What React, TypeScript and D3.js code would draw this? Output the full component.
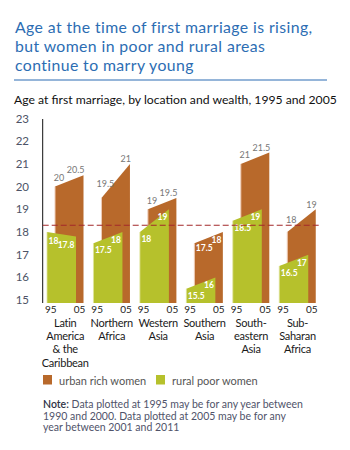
import React from "react";
import * as d3 from "d3";

const categories = [
  "Latin America & the Caribbean",
  "Northern Africa",
  "Western Asia",
  "Southern Asia",
  "South-eastern Asia",
  "Sub-Saharan Africa",
];
const categoryLines = [
  ["Latin", "America", "& the", "Caribbean"],
  ["Northern", "Africa"],
  ["Western", "Asia"],
  ["Southern", "Asia"],
  ["South-", "eastern", "Asia"],
  ["Sub-", "Saharan", "Africa"],
];
const urban1995 = [20, 19.5, 19, 17.5, 21, 18];
const urban2005 = [20.5, 21, 19.5, 18, 21.5, 19];
const rural1995 = [18, 17.5, 18, 15.5, 18.5, 16.5];
const rural2005 = [17.8, 18, 19, 16, 19, 17];
const yTicks = [15, 16, 17, 18, 19, 20, 21, 22, 23];
const yearLabels = ["95", "05"];
const referenceAge = 18.3;
const titleLines = [
  "Age at the time of first marriage is rising,",
  "but women in poor and rural areas",
  "continue to marry young",
];
const subtitle = "Age at first marriage, by location and wealth, 1995 and 2005";
const legendItems = ["urban rich women", "rural poor women"];
const noteLines = [
  "Data plotted at 1995 may be for any year between",
  "1990 and 2000. Data plotted at 2005 may be for any",
  "year between 2001 and 2011",
];

const BROWN = "#b8692b";
const GREEN = "#b6c12c";
const BLUE = "#2c6db3";
const FONT = "Lato, 'Open Sans', sans-serif";

export default function App() {
  const W = 350;
  const H = 450;
  const axisX = 42.7;
  const base = 303;
  const y = d3.scaleLinear().domain([15, 23]).range([300.1, 118.5]);
  const x = d3
    .scaleBand<string>()
    .domain(categories)
    .range([47, 47 + 46.45 * categories.length])
    .paddingInner(0)
    .paddingOuter(0);
  const barW = 29;
  const offset = 8;
  const fmt = (v: number) => String(v);
  const topAt = (x0: number, x1: number, v0: number, v1: number, xx: number) =>
    y(v0) + ((xx - x0) / (x1 - x0)) * (y(v1) - y(v0));

  return (
    <svg
      width={W}
      height={H}
      style={{ position: "absolute", left: 0, top: 0, background: "#fff" }}
      fontFamily={FONT}
    >
      {/* Title */}
      {titleLines.map((t, i) => (
        <text key={i} x={15} y={32.5 + i * 19} fill={BLUE} fontSize={15.8} letterSpacing={0.4}>
          {t}
        </text>
      ))}
      <line x1={14} x2={327} y1={80} y2={80} stroke={BLUE} strokeWidth={1.2} />
      <text x={14} y={103.5} fontSize={12.2} fill="#111">
        {subtitle}
      </text>

      {/* Y axis */}
      <line x1={axisX} x2={axisX} y1={119} y2={base} stroke="#111" strokeWidth={1} />
      {yTicks.map((t) => (
        <text
          key={t}
          x={29}
          y={y(t)}
          dy="0.35em"
          textAnchor="end"
          fontSize={11.5}
          fill="#4d5366"
        >
          {t}
        </text>
      ))}

      {/* Bars */}
      {categories.map((c, i) => {
        const gx0 = x(c)!;
        const gx1 = gx0 + barW;
        const bx0 = gx0 + offset;
        const bx1 = bx0 + barW - 0.5;
        const brownPts = [
          [bx0, base],
          [bx0, y(urban1995[i])],
          [bx1, y(urban2005[i])],
          [bx1, base],
        ];
        const greenPts = [
          [gx0, base],
          [gx0, y(rural1995[i])],
          [gx1, y(rural2005[i])],
          [gx1, base],
        ];
        return (
          <g key={c}>
            <polygon points={brownPts.map((p) => p.join(",")).join(" ")} fill={BROWN} />
            <line x1={bx0} x2={bx0} y1={y(urban1995[i])} y2={base} stroke="#efcdb8" strokeWidth={1} />
            <polygon points={greenPts.map((p) => p.join(",")).join(" ")} fill={GREEN} />
            <line x1={gx0} x2={gx0} y1={y(rural1995[i])} y2={base} stroke="#dfe59c" strokeWidth={0.8} />
          </g>
        );
      })}

      {/* Labels drawn above all bars */}
      {categories.map((c, i) => {
        const gx0 = x(c)!;
        const gx1 = gx0 + barW;
        const bx0 = gx0 + offset;
        const bx1 = bx0 + barW - 0.5;
        const inside = urban2005[i] < referenceAge;
        const uTop = (xx: number) => topAt(bx0, bx1, urban1995[i], urban2005[i], xx);
        const gTop = (xx: number) => topAt(gx0, gx1, rural1995[i], rural2005[i], xx);
        return (
          <g key={c}>
            {inside ? (
              <>
                <text x={bx0 + 1.5} y={Math.max(uTop(bx0), uTop(bx0 + 15)) + 8} fontSize={8.5} fill="#fff" fontWeight={700}>
                  {fmt(urban1995[i])}
                </text>
                <text x={bx1 - 1.5} y={uTop(bx1) + 11} fontSize={8.5} fill="#fff" fontWeight={700} textAnchor="end">
                  {fmt(urban2005[i])}
                </text>
              </>
            ) : (
              <>
                <text x={bx0 + 4} y={Math.min(uTop(bx0), uTop(bx0 + 7)) - 3} fontSize={9} fill="#777" textAnchor="middle">
                  {fmt(urban1995[i])}
                </text>
                <text x={bx1 + 1} y={uTop(bx1) - 1.8} fontSize={9} fill="#777" textAnchor="end">
                  {fmt(urban2005[i])}
                </text>
              </>
            )}
            <text x={gx0 + 1.5} y={Math.max(gTop(gx0), gTop(gx0 + 14)) + 10} fontSize={8.5} fill="#fff" fontWeight={700}>
              {fmt(rural1995[i])}
            </text>
            <text x={gx1 - 1.5} y={gTop(gx1) + 11} fontSize={8.5} fill="#fff" fontWeight={700} textAnchor="end">
              {fmt(rural2005[i])}
            </text>
            <text x={gx0 + 3.7} y={312.5} fontSize={10} fill="#222" textAnchor="middle">
              {yearLabels[0]}
            </text>
            <text x={bx1 - 4} y={312.5} fontSize={10} fill="#222" textAnchor="middle">
              {yearLabels[1]}
            </text>
            {categoryLines[i].map((l, j) => (
              <text
                key={j}
                x={(gx0 + bx1) / 2}
                y={326.5 + j * 13.4}
                fontSize={11}
                letterSpacing={-0.25}
                fill="#1a1a1a"
                textAnchor="middle"
              >
                {l}
              </text>
            ))}
          </g>
        );
      })}

      {/* Reference line */}
      <line
        x1={axisX}
        x2={321.7}
        y1={y(referenceAge)}
        y2={y(referenceAge)}
        stroke="#a3292b"
        strokeWidth={1.1}
        strokeDasharray="6,3"
      />

      {/* Legend */}
      {legendItems.map((l, i) => (
        <g key={l} transform={`translate(${43 + i * 113},375)`}>
          <rect width={9} height={9.5} fill={i === 0 ? BROWN : GREEN} />
          <text x={16} y={9.5} fontSize={11} fill="#555">
            {l}
          </text>
        </g>
      ))}

      {/* Note */}
      {noteLines.map((l, i) => (
        <text key={i} x={43} y={408 + i * 11.7} fontSize={10.5} fill="#50536a">
          {i === 0 ? (
            <>
              <tspan fill="#2d3145" fontWeight={600}>Note:</tspan> {l}
            </>
          ) : (
            l
          )}
        </text>
      ))}
    </svg>
  );
}
